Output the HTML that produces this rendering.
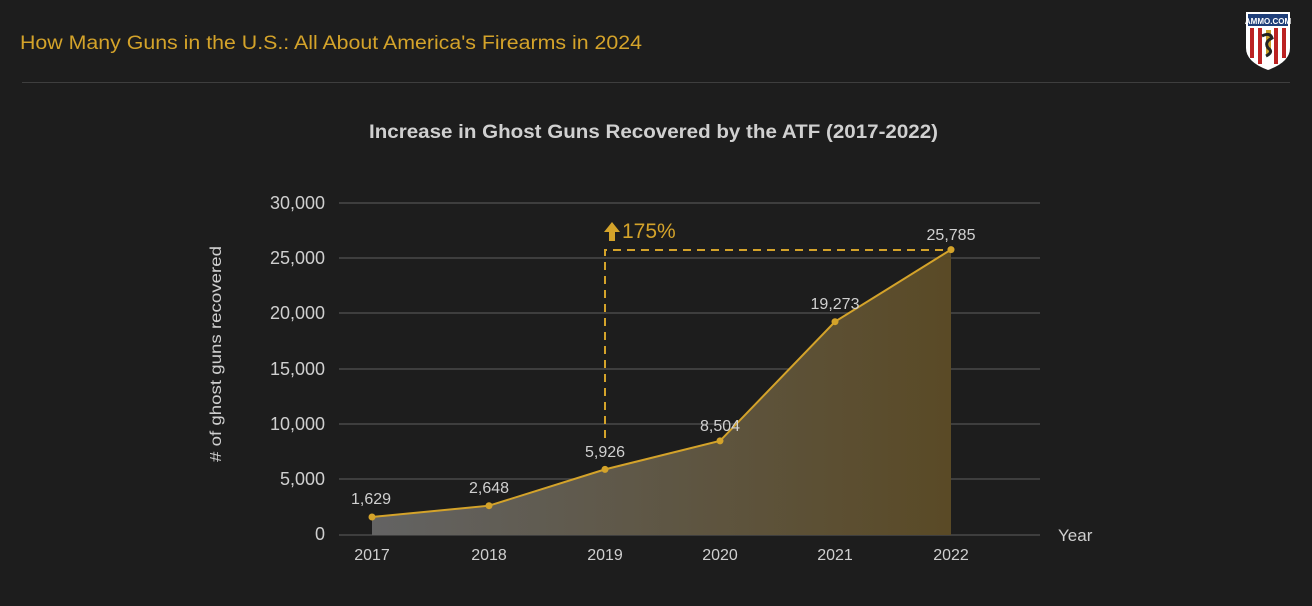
<!DOCTYPE html>
<html><head><meta charset="utf-8"><style>
html,body{margin:0;padding:0;background:#1d1d1d;}
body{width:1312px;height:606px;overflow:hidden;position:relative;font-family:"Liberation Sans",sans-serif;}
</style></head><body>
<svg width="1312" height="606" xmlns="http://www.w3.org/2000/svg" style="position:absolute;left:0;top:0">
<defs>
<linearGradient id="g" x1="372" x2="951" y1="0" y2="0" gradientUnits="userSpaceOnUse">
<stop offset="0" stop-color="#636363"/><stop offset="1" stop-color="#5a4a26"/>
</linearGradient>
</defs>
<rect width="1312" height="606" fill="#1d1d1d"/>
<text x="20" y="49" font-size="19" fill="#d4a32a" textLength="622" lengthAdjust="spacingAndGlyphs">How Many Guns in the U.S.: All About America's Firearms in 2024</text>
<line x1="22" y1="82.5" x2="1290" y2="82.5" stroke="#3e3e3e" stroke-width="1"/>
<path d="M1246 12 H1290 V48 Q1290 62 1268 70 Q1246 62 1246 48 Z" fill="#fff"/>
<rect x="1248" y="14" width="40" height="12" fill="#1f3f7a"/>
<text x="1268" y="24" font-size="8" font-weight="bold" fill="#fff" text-anchor="middle">AMMO.COM</text>
<path d="M1250 28 h4 v30 h-4z M1258 28 h4 v36 h-4z M1274 28 h4 v36 h-4z M1282 28 h4 v30 h-4z" fill="#b22"/>
<rect x="1266" y="30" width="5" height="24" fill="#c9a12a"/>
<path d="M1262 36 q8 -4 10 2 q-8 4 -4 10 q6 4 -2 8" stroke="#222" stroke-width="3" fill="none"/>
<text x="369" y="138" font-size="19" font-weight="bold" fill="#d0d0d0" textLength="569" lengthAdjust="spacingAndGlyphs">Increase in Ghost Guns Recovered by the ATF (2017-2022)</text>
<g stroke="#4a4a4a" stroke-width="1.5">
<line x1="339" x2="1040" y1="203" y2="203"/><line x1="339" x2="1040" y1="258" y2="258"/>
<line x1="339" x2="1040" y1="313" y2="313"/><line x1="339" x2="1040" y1="369" y2="369"/>
<line x1="339" x2="1040" y1="424" y2="424"/><line x1="339" x2="1040" y1="479" y2="479"/>
<line x1="339" x2="1040" y1="535" y2="535"/>
</g>
<g font-size="18" fill="#cfcfcf" text-anchor="end">
<text x="325" y="209">30,000</text><text x="325" y="264">25,000</text><text x="325" y="319">20,000</text>
<text x="325" y="375">15,000</text><text x="325" y="430">10,000</text><text x="325" y="485">5,000</text>
<text x="325" y="540">0</text>
</g>
<text transform="translate(221,354) rotate(-90)" font-size="16" fill="#cfcfcf" text-anchor="middle" textLength="216" lengthAdjust="spacingAndGlyphs"># of ghost guns recovered</text>
<polygon points="372,535 372,517 489,505.7 605,469.4 720,440.9 835,321.7 951,249.6 951,535" fill="url(#g)"/>
<path d="M605 438 V250 H951" stroke="#d4a32a" stroke-width="2" stroke-dasharray="8,6" fill="none"/>
<polyline points="372,517 489,505.7 605,469.4 720,440.9 835,321.7 951,249.6" stroke="#d4a32a" stroke-width="2" fill="none"/>
<g fill="#d4a32a">
<circle cx="372" cy="517" r="3.5"/><circle cx="489" cy="505.7" r="3.5"/><circle cx="605" cy="469.4" r="3.5"/>
<circle cx="720" cy="440.9" r="3.5"/><circle cx="835" cy="321.7" r="3.5"/><circle cx="951" cy="249.6" r="3.5"/>
<path d="M612 222 L620 232 H615 V241 H609 V232 H604 Z"/>
</g>
<text x="622" y="238" font-size="21" fill="#d4a32a">175%</text>
<g font-size="16" fill="#d0d0d0" text-anchor="middle">
<text x="371" y="504">1,629</text><text x="489" y="493">2,648</text><text x="605" y="457">5,926</text>
<text x="720" y="431">8,504</text><text x="835" y="309">19,273</text><text x="951" y="240">25,785</text>
</g>
<g font-size="16" fill="#cfcfcf" text-anchor="middle">
<text x="372" y="560">2017</text><text x="489" y="560">2018</text><text x="605" y="560">2019</text>
<text x="720" y="560">2020</text><text x="835" y="560">2021</text><text x="951" y="560">2022</text>
</g>
<text x="1058" y="541" font-size="17" fill="#cfcfcf">Year</text>
</svg>
</body></html>
